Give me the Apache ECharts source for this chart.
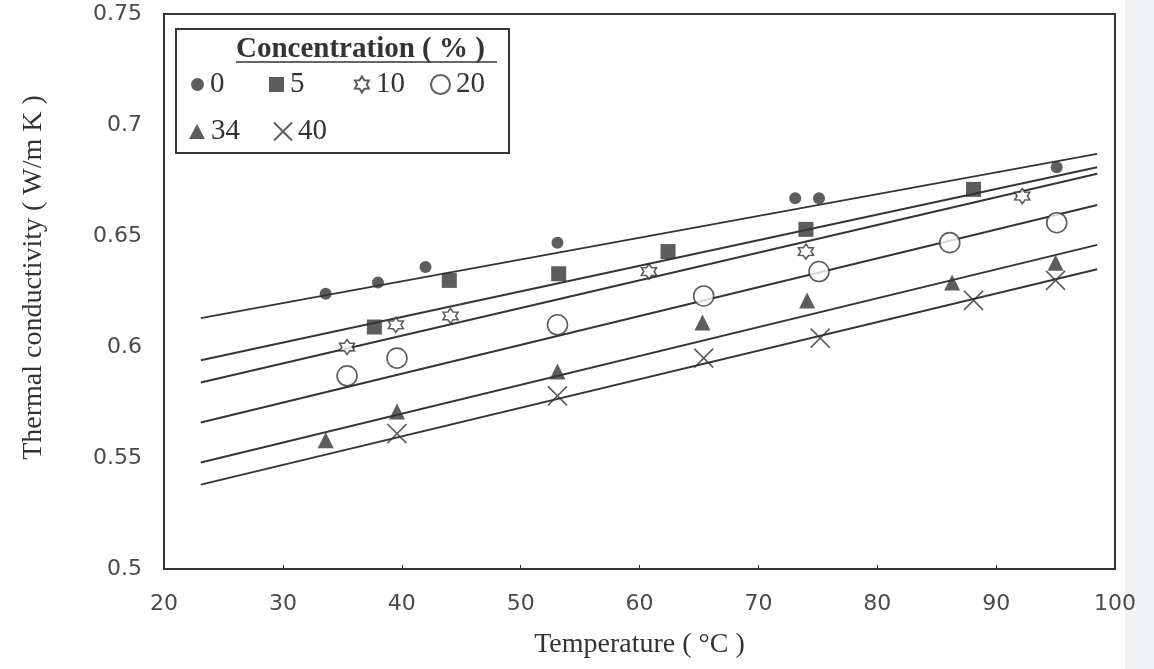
<!DOCTYPE html>
<html>
<head>
<meta charset="utf-8">
<script src="https://cdn.jsdelivr.net/npm/echarts@6/dist/echarts.min.js"></script>
<style>
  html, body { margin: 0; padding: 0; background: #ffffff; }
  #chart { width: 1154px; height: 669px; }
</style>
</head>
<body>
<div id="chart"></div>
<script>
// Thermal conductivity vs temperature at six concentrations (%)
const seriesNames = ['0', '5', '10', '20', '34', '40'];

// Measured points: temperature (°C) and conductivity (W/m K)
const temps0 = [33.6, 38.0, 42.0, 53.1, 73.1, 75.1, 95.1];
const cond0  = [0.624, 0.629, 0.636, 0.647, 0.667, 0.667, 0.681];
const temps5 = [37.7, 44.0, 53.2, 62.4, 74.0, 88.1];
const cond5  = [0.609, 0.630, 0.633, 0.643, 0.653, 0.671];
const temps10 = [35.4, 39.5, 44.1, 60.8, 74.0, 92.2];
const cond10  = [0.600, 0.610, 0.614, 0.634, 0.643, 0.668];
const temps20 = [35.4, 39.6, 53.1, 65.4, 75.1, 86.1, 95.1];
const cond20  = [0.587, 0.595, 0.610, 0.623, 0.634, 0.647, 0.656];
const temps34 = [33.6, 39.6, 53.1, 65.3, 74.1, 86.3, 95.0];
const cond34  = [0.558, 0.571, 0.589, 0.611, 0.621, 0.629, 0.638];
const temps40 = [39.6, 53.1, 65.4, 75.2, 88.1, 95.0];
const cond40  = [0.561, 0.578, 0.595, 0.604, 0.621, 0.630];

// Straight trend lines: conductivity at the two ends of the temperature span
const fitTemps = [23.1, 98.5];
const fit0  = [0.613, 0.687];
const fit5  = [0.594, 0.681];
const fit10 = [0.584, 0.678];
const fit20 = [0.566, 0.664];
const fit34 = [0.548, 0.646];
const fit40 = [0.538, 0.635];

// Axis ticks
const xTicks = [20, 30, 40, 50, 60, 70, 80, 90, 100];
const yTicks = ['0.5', '0.55', '0.6', '0.65', '0.7', '0.75'];

const INK = '#353535';
const pointSets = [
  [temps0, cond0], [temps5, cond5], [temps10, cond10],
  [temps20, cond20], [temps34, cond34], [temps40, cond40]
];
const fitSets = [fit0, fit5, fit10, fit20, fit34, fit40];

const STAR = 'path://M10,0L13,4.8L18.66,5L16,10L18.66,15L13,15.2L10,20L7,15.2L1.34,15L4,10L1.34,5L7,4.8Z';
const CROSS = 'path://M0,0L20,20M20,0L0,20';

const markStyles = [
  { symbol: 'circle', size: 12, itemStyle: { color: INK } },
  { symbol: 'rect', size: 15, itemStyle: { color: INK } },
  { symbol: STAR, size: 15, itemStyle: { color: '#ffffff', borderColor: INK, borderWidth: 1.6 } },
  { symbol: 'circle', size: 20, itemStyle: { color: '#ffffff', borderColor: INK, borderWidth: 1.6 } },
  { symbol: 'triangle', size: 16, itemStyle: { color: INK } },
  { symbol: CROSS, size: 19, itemStyle: { color: 'rgba(0,0,0,0)', borderColor: INK, borderWidth: 1.6 } }
];

const series = [];
fitSets.forEach(function (f, i) {
  series.push({
    type: 'line',
    name: 'fit-' + seriesNames[i],
    data: fitTemps.map(function (t, j) { return [t, f[j]]; }),
    symbol: 'none',
    silent: true,
    lineStyle: { color: INK, width: 2 },
    z: 2
  });
});
pointSets.forEach(function (p, i) {
  const st = markStyles[i];
  series.push({
    type: 'scatter',
    name: seriesNames[i],
    data: p[0].map(function (t, j) { return [t, p[1][j]]; }),
    symbol: st.symbol,
    symbolSize: st.size,
    itemStyle: st.itemStyle,
    z: 3
  });
});

// One legend entry per concentration, laid out in two rows inside a framed box
const legendSlots = [
  { left: 191, top: 70, w: 13, h: 13 },
  { left: 269, top: 70, w: 15, h: 15 },
  { left: 354, top: 70, w: 16, h: 16 },
  { left: 430, top: 70, w: 19, h: 19 },
  { left: 189, top: 117, w: 16, h: 15 },
  { left: 273, top: 117, w: 18, h: 18 }
];
const legends = seriesNames.map(function (n, i) {
  const s = legendSlots[i];
  return {
    data: [n],
    left: s.left,
    top: s.top,
    padding: 0,
    itemWidth: s.w,
    itemHeight: s.h,
    itemGap: 0,
    selectedMode: false,
    textStyle: { fontFamily: 'Liberation Serif', fontSize: 29, color: '#333333', padding: [0, 0, 0, 1] }
  };
});

const chart = echarts.init(document.getElementById('chart'), null, { renderer: 'canvas' });
chart.setOption({
  backgroundColor: '#ffffff',
  animation: false,
  grid: {
    left: 164, right: 39, top: 14, bottom: 100,
    show: true, borderColor: INK, borderWidth: 2, backgroundColor: 'transparent'
  },
  xAxis: {
    type: 'value',
    min: xTicks[0], max: xTicks[xTicks.length - 1], interval: 10,
    name: 'Temperature ( \u00B0C )',
    nameLocation: 'middle', nameGap: 62,
    nameTextStyle: { fontFamily: 'Liberation Serif', fontSize: 28, color: '#333333' },
    axisLine: { show: true, lineStyle: { color: INK, width: 2 } },
    axisTick: { show: true, inside: true, length: 4, lineStyle: { color: INK } },
    splitLine: { show: false },
    axisLabel: { margin: 24, fontFamily: 'DejaVu Sans', fontSize: 22, color: '#4a4a4a' }
  },
  yAxis: {
    type: 'value',
    min: Number(yTicks[0]), max: Number(yTicks[yTicks.length - 1]), interval: 0.05,
    name: 'Thermal conductivity ( W/m K )',
    nameLocation: 'middle', nameGap: 116, nameRotate: 90,
    nameTextStyle: { fontFamily: 'Liberation Serif', fontSize: 28, color: '#333333', padding: [0, 0, 0, 28] },
    axisLine: { show: true, lineStyle: { color: INK, width: 2 } },
    axisTick: { show: false },
    splitLine: { show: false },
    axisLabel: {
      margin: 22, fontFamily: 'DejaVu Sans', fontSize: 22, color: '#4a4a4a',
      formatter: function (v) {
        const hit = yTicks.find(function (t) { return Math.abs(Number(t) - v) < 1e-9; });
        return hit || '';
      }
    }
  },
  legend: legends,
  graphic: [
    {
      type: 'rect', left: 1125, top: 0, z: -1, silent: true,
      shape: { width: 29, height: 669 },
      style: { fill: '#f0f3f6' }
    },
    {
      type: 'rect', left: 175, top: 28, z: 10,
      shape: { width: 333, height: 124 },
      style: { fill: 'rgba(0,0,0,0)', stroke: INK, lineWidth: 2 }
    },
    {
      type: 'text', left: 236, top: 35, z: 11,
      style: { text: 'Concentration ( % )', font: 'bold 29px "Liberation Serif"', fill: '#333333' }
    },
    {
      type: 'line', z: 11,
      shape: { x1: 236, y1: 62, x2: 497, y2: 62 },
      style: { stroke: '#333333', lineWidth: 1.5 }
    }
  ],
  series: series
});
</script>
</body>
</html>
